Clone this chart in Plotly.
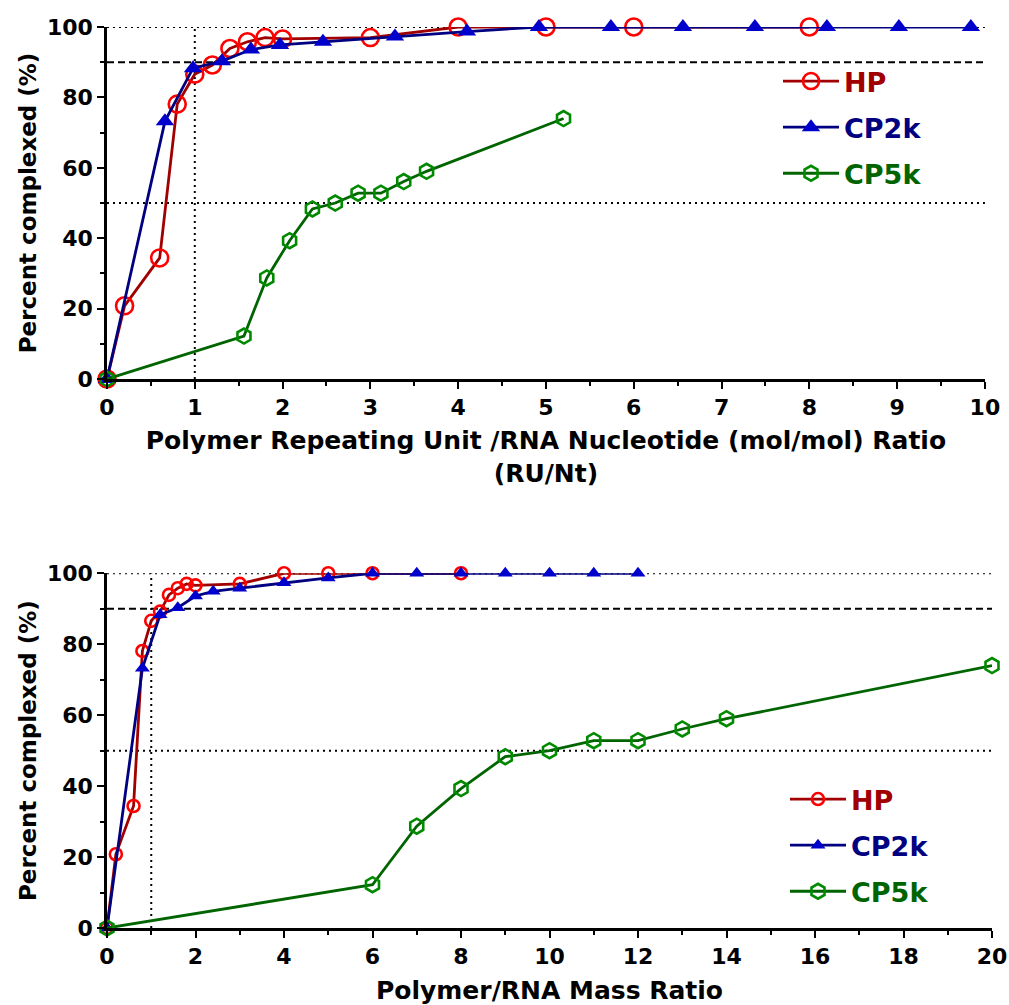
import plotly.graph_objects as go

# ---- data -------------------------------------------------------------
# Top panel: repeating-unit / nucleotide (mol/mol) ratio
hp_ru = [0, 0.2, 0.6, 0.8, 1.0, 1.2, 1.4, 1.6, 1.8, 2.0, 3.0, 4.0, 5.0, 6.0, 8.0]
cp2k_ru = [0, 0.66, 0.98, 1.31, 1.64, 1.97, 2.46, 3.28, 4.1, 4.92, 5.74, 6.56,
           7.38, 8.2, 9.02, 9.84]
cp5k_ru = [0, 1.56, 1.82, 2.08, 2.34, 2.6, 2.86, 3.12, 3.38, 3.64, 5.2]

# Bottom panel: polymer / RNA mass ratio
hp_mass = [0, 0.2, 0.6, 0.8, 1.0, 1.2, 1.4, 1.6, 1.8, 2.0, 3, 4, 5, 6, 8]
cp2k_mass = [0, 0.8, 1.2, 1.6, 2.0, 2.4, 3, 4, 5, 6, 7, 8, 9, 10, 11, 12]
cp5k_mass = [0, 6, 7, 8, 9, 10, 11, 12, 13, 14, 20]

# Percent complexed (%)
hp_pct = [0, 20.8, 34.4, 78.1, 86.6, 89.2, 93.9, 95.8, 97.0, 96.6, 97.0,
          100, 100, 100, 100]
cp2k_pct = [0, 73.2, 88.3, 90.3, 93.6, 94.9, 95.8, 97.3, 98.7, 100, 100, 100,
            100, 100, 100, 100]
cp5k_pct = [0, 12.2, 28.7, 39.3, 48.3, 50.0, 52.8, 52.8, 56.1, 59.0, 74.0]

series_names = ["HP", "CP2k", "CP5k"]
ref_levels = [100, 90, 50]
ref_dash = ["2px,4px", "7px,4px", "2px,4px"]
ref_x = 1

# ---- styling -----------------------------------------------------------
FONT = "DejaVu Sans"
line_cols = ["#a00000", "#000080", "#006400"]
mark_cols = ["#ff0000", "#0000cc", "#008a00"]
symbols = ["circle-open", "triangle-up", "hexagon-open"]
top_sizes = [17, 16, 15]
bot_sizes = [12, 13, 15]

fig = go.Figure()


def add_panel(xs, ys, xa, ya, legend, sizes):
    for i, (x, y) in enumerate(zip(xs, ys)):
        sym = symbols[i]
        filled = not sym.endswith("open")
        fig.add_trace(go.Scatter(
            x=x, y=y, xaxis=xa, yaxis=ya, mode="lines+markers",
            name=f"<span style='color:{line_cols[i]}'>{series_names[i]}</span>",
            legend=legend, legendgroup=f"{legend}{i}",
            line=dict(color=line_cols[i], width=2.8),
            marker=dict(symbol=sym, size=sizes[i],
                        color=mark_cols[i],
                        line=dict(color=mark_cols[i], width=0 if filled else 2.6)),
            cliponaxis=False,
        ))


add_panel([hp_ru, cp2k_ru, cp5k_ru], [hp_pct, cp2k_pct, cp5k_pct],
          "x", "y", "legend", top_sizes)
add_panel([hp_mass, cp2k_mass, cp5k_mass], [hp_pct, cp2k_pct, cp5k_pct],
          "x2", "y2", "legend2", bot_sizes)

# reference lines (100 %, 90 %, 50 % and ratio = 1)
shapes = []
for xr, yr, xmax in (("x", "y", 10), ("x2", "y2", 20)):
    for lvl, dsh in zip(ref_levels, ref_dash):
        shapes.append(dict(type="line", xref=xr, yref=yr, x0=0, x1=xmax,
                           y0=lvl, y1=lvl, layer="below",
                           line=dict(color="black", width=2, dash=dsh)))
    shapes.append(dict(type="line", xref=xr, yref=yr, x0=ref_x, x1=ref_x,
                       y0=0, y1=100, layer="below",
                       line=dict(color="black", width=2, dash="2px,4px")))

tickfont = dict(family=FONT, size=22, color="black", weight="bold")
ytitlefont = dict(family=FONT, size=23, color="black", weight="bold")
xtitlefont = dict(family=FONT, size=25, color="black", weight="bold")

common_axis = dict(showline=True, linecolor="black", linewidth=2.5,
                   ticks="outside", ticklen=7, tickwidth=2.2, tickcolor="black",
                   showgrid=False, zeroline=False, tickfont=tickfont,
                   fixedrange=True, automargin=False)

legend_common = dict(xanchor="left", yanchor="top", bgcolor="rgba(0,0,0,0)",
                     itemwidth=56, tracegroupgap=8, itemsizing="trace",
                     font=dict(family=FONT, size=27, weight="bold"))

fig.update_layout(
    width=1009, height=1005,
    margin=dict(l=107, r=17, t=27, b=77),
    paper_bgcolor="white", plot_bgcolor="white",
    font=dict(family=FONT, color="black"),
    shapes=shapes,
    xaxis=dict(domain=[0, 0.992], anchor="y", range=[0, 10], dtick=1,
               minor=dict(dtick=0.5, ticks="outside", ticklen=4,
                          tickwidth=2, tickcolor="black"),
               title=dict(text="Polymer Repeating Unit /RNA Nucleotide (mol/mol) Ratio<br>(RU/Nt)",
                          font=xtitlefont, standoff=13),
               **common_axis),
    yaxis=dict(domain=[0.6093, 1.0], anchor="x", range=[0, 100], dtick=20,
               minor=dict(dtick=10, ticks="outside", ticklen=4,
                          tickwidth=2, tickcolor="black"),
               title=dict(text="Percent complexed (%)", font=ytitlefont,
                          standoff=4),
               **common_axis),
    xaxis2=dict(domain=[0, 1.0], anchor="y2", range=[0, 20], dtick=2,
                minor=dict(dtick=1, ticks="outside", ticklen=4,
                           tickwidth=2, tickcolor="black"),
                title=dict(text="Polymer/RNA Mass Ratio", font=xtitlefont,
                           standoff=15),
                **common_axis),
    yaxis2=dict(domain=[0, 0.3937], anchor="x2", range=[0, 100], dtick=20,
                minor=dict(dtick=10, ticks="outside", ticklen=4,
                           tickwidth=2, tickcolor="black"),
                title=dict(text="Percent complexed (%)", font=ytitlefont,
                           standoff=4),
                **common_axis),
    legend=dict(x=(778 - 107) / 885, y=(928 - 57) / 901, **legend_common),
    legend2=dict(x=(785 - 107) / 885, y=(928 - 775) / 901, **legend_common),
    showlegend=True,
)

fig.write_html("out.html")
